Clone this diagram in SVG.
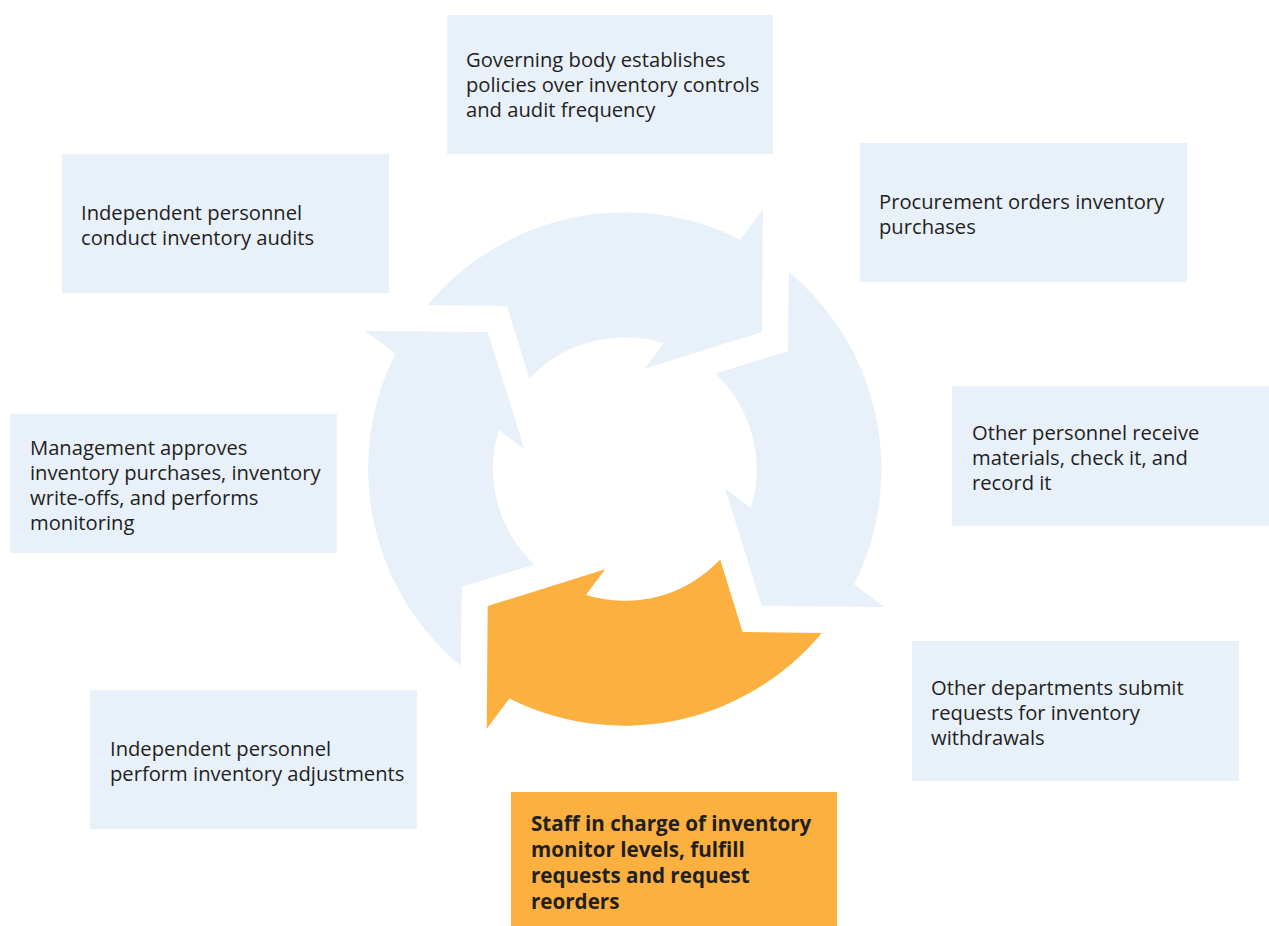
<svg xmlns="http://www.w3.org/2000/svg" xmlns:xlink="http://www.w3.org/1999/xlink" width="1269" height="926" viewBox="0 0 1269 926">
<style>
  .box { fill: #E8F0FA; }
  .box-hl { fill: #FBB040; }
  .lbl { font-family: "Open Sans", "Noto Sans", "Liberation Sans", sans-serif; font-size: 20.2px; fill: #231F20; }
  .lbl-b { font-family: "Open Sans", "Noto Sans", "Liberation Sans", sans-serif; font-size: 20.6px; font-weight: bold; fill: #231F20; }
  .arr { fill: #E8F0FA; }
  .arr-hl { fill: #FBB040; }
</style>
<defs>
  <path id="cycArrow" d="M 427.8 305 L 507 306 L 529.4 378.4 A 131.8 131.8 0 0 1 663.7 342.9 L 644.4 368.7 L 761.9 331.9 L 762.9 209.3 L 740.2 239.6 A 256.5 256.5 0 0 0 427.8 305 Z"/>
</defs>
<rect width="1269" height="926" fill="#FFFFFF"/>

<g id="connectors">
  <use xlink:href="#cycArrow" href="#cycArrow" class="arr"/>
  <use xlink:href="#cycArrow" href="#cycArrow" class="arr" transform="rotate(90 624.8 469)"/>
  <use xlink:href="#cycArrow" href="#cycArrow" class="arr-hl" transform="rotate(180 624.8 469)"/>
  <use xlink:href="#cycArrow" href="#cycArrow" class="arr" transform="rotate(270 624.8 469)"/>
</g>

<g id="node-governing">
  <rect class="box" x="447" y="15" width="326" height="139"/>
  <text class="lbl" x="466" y="67">Governing body establishes</text>
  <text class="lbl" x="466" y="92">policies over inventory controls</text>
  <text class="lbl" x="466" y="117">and audit frequency</text>
</g>

<g id="node-procurement">
  <rect class="box" x="860" y="143" width="327" height="139"/>
  <text class="lbl" x="879" y="209">Procurement orders inventory</text>
  <text class="lbl" x="879" y="234">purchases</text>
</g>

<g id="node-receive">
  <rect class="box" x="952" y="386" width="317" height="140"/>
  <text class="lbl" x="972" y="440">Other personnel receive</text>
  <text class="lbl" x="972" y="465">materials, check it, and</text>
  <text class="lbl" x="972" y="490">record it</text>
</g>

<g id="node-departments">
  <rect class="box" x="912" y="641" width="327" height="140"/>
  <text class="lbl" x="931" y="695">Other departments submit</text>
  <text class="lbl" x="931" y="720">requests for inventory</text>
  <text class="lbl" x="931" y="745">withdrawals</text>
</g>

<g id="node-staff">
  <rect class="box-hl" x="511" y="792" width="326" height="134"/>
  <text class="lbl-b" x="531" y="831">Staff in charge of inventory</text>
  <text class="lbl-b" x="531" y="857">monitor levels, fulfill</text>
  <text class="lbl-b" x="531" y="883">requests and request</text>
  <text class="lbl-b" x="531" y="909">reorders</text>
</g>

<g id="node-adjustments">
  <rect class="box" x="90" y="690" width="327" height="139"/>
  <text class="lbl" x="110" y="756">Independent personnel</text>
  <text class="lbl" x="110" y="781">perform inventory adjustments</text>
</g>

<g id="node-management">
  <rect class="box" x="10" y="414" width="327" height="139"/>
  <text class="lbl" x="30" y="455">Management approves</text>
  <text class="lbl" x="30" y="480">inventory purchases, inventory</text>
  <text class="lbl" x="30" y="505">write-offs, and performs</text>
  <text class="lbl" x="30" y="530">monitoring</text>
</g>

<g id="node-audits">
  <rect class="box" x="62" y="154" width="327" height="139"/>
  <text class="lbl" x="81" y="220">Independent personnel</text>
  <text class="lbl" x="81" y="245">conduct inventory audits</text>
</g>
</svg>
